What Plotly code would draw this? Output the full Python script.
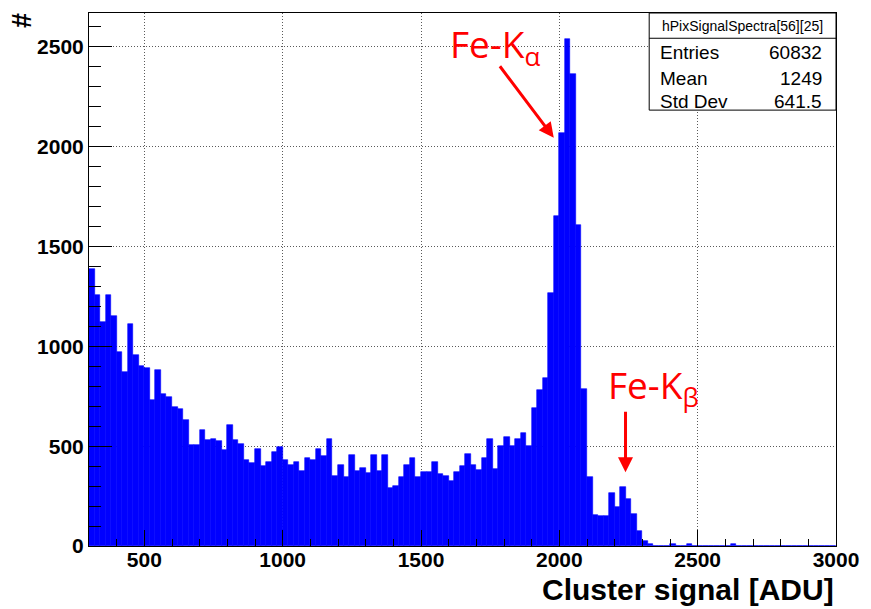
import plotly.graph_objects as go

# ---------------- data ----------------
bin_width = 20
bin_start = 300
counts = [
    1387, 1257, 1121, 1257, 1152, 971, 871, 1112, 956, 901,      # 300-480
    891, 732, 880, 762, 747, 695, 687, 632, 507, 507,            # 500-680
    582, 529, 534, 527, 480, 607, 529, 509, 430, 418,            # 700-880
    485, 401, 421, 471, 496, 430, 405, 423, 376, 441,            # 900-1080
    431, 486, 450, 534, 351, 405, 345, 455, 376, 393,            # 1100-1280
    365, 455, 376, 455, 290, 302, 345, 405, 441, 345,            # 1300-1480
    371, 371, 420, 363, 351, 328, 371, 400, 463, 405,            # 1500-1680
    381, 443, 534, 384, 500, 547, 500, 538, 565, 503,            # 1700-1880
    690, 779, 841, 1268, 1651, 2069, 2538, 2363, 1607, 788,      # 1900-2080
    346, 156, 152, 152, 268, 194, 294, 235, 162, 75,             # 2100-2280
    23, 8, 2, 0, 0, 9, 0, 0, 9, 0,                               # 2300-2480
    0, 0, 0, 0, 0, 0, 9, 0, 0, 0,                                # 2500-2680
    0, 0, 0, 0, 0, 0, 0, 0, 0, 0,                                # 2700-2880
    0, 0, 0, 0, 0,                                               # 2900-2980
]
bin_centers = [bin_start + bin_width * (i + 0.5) for i in range(len(counts))]

x_ticks = [500, 1000, 1500, 2000, 2500, 3000]
y_ticks = [0, 500, 1000, 1500, 2000, 2500]

stat_title = "hPixSignalSpectra[56][25]"
stat_names = ["Entries", "Mean", "Std Dev"]
stat_values = ["60832", "1249", "641.5"]

# ---------------- layout geometry ----------------
W, H = 871, 609
ML, MR, MT, MB = 89, 25, 12, 63
PW, PH = W - ML - MR, H - MT - MB


def px_x(px):
    return (px - ML) / PW


def px_y(py):
    return (H - MB - py) / PH


fig = go.Figure()
fig.add_trace(go.Bar(
    x=bin_centers, y=counts, width=bin_width,
    marker=dict(color="rgb(0,0,255)", line=dict(color="rgb(0,0,255)", width=0.6)),
    showlegend=False, hoverinfo="x+y",
))

axis_font = dict(family="Liberation Sans, Arial, sans-serif", size=21, color="black", weight="bold")
grid_col = "rgb(90,90,90)"

fig.update_layout(
    width=W, height=H,
    margin=dict(l=ML, r=MR, t=MT, b=MB, pad=0),
    paper_bgcolor="white", plot_bgcolor="white",
    bargap=0,
    xaxis=dict(
        range=[300, 3000], tickvals=x_ticks, ticktext=[str(v) for v in x_ticks],
        ticks="inside", ticklen=16, tickwidth=1, tickcolor="black",
        minor=dict(dtick=100, tick0=0, ticks="inside", ticklen=7, tickcolor="black", showgrid=False),
        showgrid=True, gridcolor=grid_col, griddash="1px,2px", gridwidth=1,
        showline=True, linecolor="black", linewidth=1, mirror=True,
        tickfont=axis_font, zeroline=False, ticklabelstandoff=-5,
    ),
    yaxis=dict(
        range=[0, 2670], tickvals=y_ticks, ticktext=[str(v) for v in y_ticks],
        ticks="inside", ticklen=23, tickwidth=1, tickcolor="black",
        minor=dict(dtick=100, tick0=0, ticks="inside", ticklen=12, tickcolor="black", showgrid=False),
        showgrid=True, gridcolor=grid_col, griddash="1px,2px", gridwidth=1,
        showline=True, linecolor="black", linewidth=1, mirror=True,
        tickfont=axis_font, zeroline=False,
    ),
)

annotations = []
# axis titles
annotations.append(dict(
    text="Cluster signal [ADU]", xref="paper", yref="paper",
    x=1.0, y=px_y(590), xanchor="right", yanchor="middle", showarrow=False,
    font=dict(family="Liberation Sans, Arial, sans-serif", size=30, color="black", weight="bold"),
))
annotations.append(dict(
    text="#", xref="paper", yref="paper",
    x=px_x(21.5), y=px_y(19.5), xanchor="center", yanchor="middle", showarrow=False,
    textangle=-90,
    font=dict(family="Liberation Sans, Arial, sans-serif", size=27, color="black", weight="bold"),
))

# stat box texts
box_l, box_r, box_t, box_sep, box_b = 656.7, 846, 12, 37.3, 109.3
annotations.append(dict(
    text=stat_title, xref="paper", yref="paper",
    x=px_x((box_l + box_r) / 2), y=px_y(25), xanchor="center", yanchor="middle", showarrow=False,
    font=dict(family="Liberation Sans, Arial, sans-serif", size=14, color="black"),
))
row_y = [52, 78, 100.5]
for name, val, ry in zip(stat_names, stat_values, row_y):
    annotations.append(dict(
        text=name, xref="paper", yref="paper", x=px_x(666), y=px_y(ry),
        xanchor="left", yanchor="middle", showarrow=False,
        font=dict(family="Liberation Sans, Arial, sans-serif", size=19, color="black"),
    ))
    annotations.append(dict(
        text=val, xref="paper", yref="paper", x=px_x(834.3), y=px_y(ry),
        xanchor="right", yanchor="middle", showarrow=False,
        font=dict(family="Liberation Sans, Arial, sans-serif", size=19, color="black"),
    ))

# peak labels and arrows
red_font = dict(family="Open Sans, Noto Sans, sans-serif", size=37, color="rgb(255,0,0)")
annotations.append(dict(
    text="Fe-K<sub>α</sub>", xref="paper", yref="paper",
    x=px_x(453), y=px_y(45), xanchor="left", yanchor="middle", showarrow=False, font=red_font,
))
annotations.append(dict(
    text="Fe-K<sub>β</sub>", xref="paper", yref="paper",
    x=px_x(613), y=px_y(387), xanchor="left", yanchor="middle", showarrow=False, font=red_font,
))
annotations.append(dict(
    text="", xref="paper", yref="paper", x=px_x(560), y=px_y(137),
    ax=-55, ay=-73, axref="pixel", ayref="pixel",
    showarrow=True, arrowhead=2, arrowsize=1, arrowwidth=3, arrowcolor="rgb(255,0,0)",
))
annotations.append(dict(
    text="", xref="paper", yref="paper", x=px_x(632.7), y=px_y(472),
    ax=0, ay=-62, axref="pixel", ayref="pixel",
    showarrow=True, arrowhead=2, arrowsize=1, arrowwidth=3, arrowcolor="rgb(255,0,0)",
))

fig.update_layout(annotations=annotations)

fig.update_layout(shapes=[
    dict(type="rect", xref="paper", yref="paper",
         x0=px_x(box_l), x1=px_x(box_r), y0=px_y(box_b), y1=px_y(box_t),
         fillcolor="white", line=dict(color="black", width=1), layer="above"),
    dict(type="line", xref="paper", yref="paper",
         x0=px_x(box_l), x1=px_x(box_r), y0=px_y(box_sep), y1=px_y(box_sep),
         line=dict(color="black", width=1), layer="above"),
])

fig.write_html("out.html")
